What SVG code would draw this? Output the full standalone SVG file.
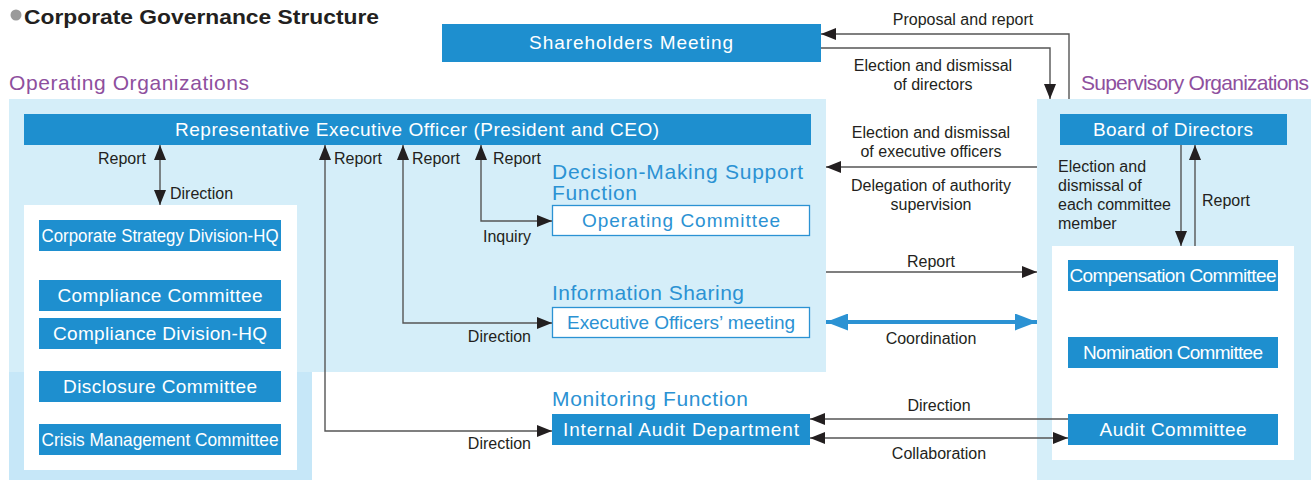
<svg xmlns="http://www.w3.org/2000/svg" width="1311" height="480" viewBox="0 0 1311 480">
<style>
.bg{fill:#d5eef9}
.bg2{fill:#c6e7f8}
.wbox{fill:#ffffff}
.box{fill:#1e8fcf}
.obox{fill:#ffffff;stroke:#2b92d3;stroke-width:1.3}
.bt{font-family:"Liberation Sans",Arial,sans-serif;font-size:19px;fill:#ffffff;text-anchor:middle}
.ot{font-family:"Liberation Sans",Arial,sans-serif;font-size:19px;fill:#2b92d3;text-anchor:middle}
.lb{font-family:"Liberation Sans",Arial,sans-serif;font-size:16px;fill:#231f20}
.mid{text-anchor:middle}
.end{text-anchor:end}
.hd{font-family:"Liberation Sans",Arial,sans-serif;font-size:21px;fill:#2b92d3}
.pu{font-family:"Liberation Sans",Arial,sans-serif;font-size:21px;fill:#8e4f9e}
.ln{fill:none;stroke:#555555;stroke-width:1.4}
.bl{fill:none;stroke:#2b92d3;stroke-width:4}
</style>
<defs>
<marker id="ah" markerUnits="userSpaceOnUse" markerWidth="15" markerHeight="12" refX="15" refY="6" orient="auto-start-reverse" viewBox="0 0 15 12">
<path d="M0,0 L15,6 L0,12 z" fill="#231f20"/>
</marker>
<marker id="bh" markerUnits="userSpaceOnUse" markerWidth="22" markerHeight="17" refX="22" refY="8.5" orient="auto-start-reverse" viewBox="0 0 22 17">
<path d="M0,0 L22,8.5 L0,17 z" fill="#2b92d3"/>
</marker>
</defs>

<g id="title">
<circle cx="16" cy="15" r="5.5" fill="#9a9a9a"/>
<text x="24" y="24" font-family="'Liberation Sans',Arial,sans-serif" font-size="21" font-weight="bold" fill="#231f20" textLength="355" lengthAdjust="spacingAndGlyphs">Corporate Governance Structure</text>
</g>

<g id="operating-area">
<rect class="bg2" x="9" y="360" width="303" height="120"/>
<rect class="bg" x="9" y="99" width="817" height="273"/>
<text class="pu" x="9" y="90" textLength="240">Operating Organizations</text>
<rect class="wbox" x="24" y="205" width="273" height="265"/>
</g>

<g id="supervisory-area">
<rect class="bg" x="1037" y="99" width="274" height="381"/>
<text class="pu" x="1081" y="90" textLength="228">Supervisory Organizations</text>
<rect class="wbox" x="1052" y="246" width="242" height="214"/>
</g>

<g id="shareholders">
<rect class="box" x="442" y="24" width="379" height="38"/>
<text class="bt" x="631" y="49" textLength="204">Shareholders Meeting</text>
</g>

<g id="rep-exec">
<rect class="box" x="24" y="114" width="787" height="31"/>
<text class="bt" x="417" y="136" textLength="484">Representative Executive Officer (President and CEO)</text>
</g>

<g id="corp-strategy">
<rect class="box" x="39" y="220" width="242" height="31"/>
<text class="bt" x="160" y="242" font-size="18" textLength="237" lengthAdjust="spacingAndGlyphs">Corporate Strategy Division-HQ</text>
</g>
<g id="compliance-committee">
<rect class="box" x="39" y="280" width="242" height="31"/>
<text class="bt" x="160" y="302" textLength="205">Compliance Committee</text>
</g>
<g id="compliance-division">
<rect class="box" x="39" y="318" width="242" height="31"/>
<text class="bt" x="160" y="340" textLength="214">Compliance Division-HQ</text>
</g>
<g id="disclosure-committee">
<rect class="box" x="39" y="371" width="242" height="31"/>
<text class="bt" x="160" y="393" textLength="194">Disclosure Committee</text>
</g>
<g id="crisis-committee">
<rect class="box" x="39" y="424" width="242" height="31"/>
<text class="bt" x="160" y="446" font-size="18" textLength="237" lengthAdjust="spacingAndGlyphs">Crisis Management Committee</text>
</g>

<g id="operating-committee">
<text class="hd" x="552" y="179" font-size="20" textLength="251">Decision-Making Support</text>
<text class="hd" x="552" y="200" font-size="20" textLength="85">Function</text>
<rect class="obox" x="552.5" y="205.5" width="257" height="30"/>
<text class="ot" x="681" y="227" textLength="198">Operating Committee</text>
</g>

<g id="exec-officers-meeting">
<text class="hd" x="552" y="300" textLength="192">Information Sharing</text>
<rect class="obox" x="552.5" y="307.5" width="257" height="30"/>
<text class="ot" x="681" y="329" textLength="228">Executive Officers’ meeting</text>
</g>

<g id="internal-audit">
<text class="hd" x="552" y="406" textLength="196">Monitoring Function</text>
<rect class="box" x="552" y="414" width="258" height="31"/>
<text class="bt" x="681" y="436" textLength="236">Internal Audit Department</text>
</g>

<g id="board">
<rect class="box" x="1060" y="114" width="227" height="31"/>
<text class="bt" x="1173" y="136" textLength="160">Board of Directors</text>
</g>
<g id="compensation-committee">
<rect class="box" x="1068" y="260" width="210" height="31"/>
<text class="bt" x="1173" y="282" textLength="207">Compensation Committee</text>
</g>
<g id="nomination-committee">
<rect class="box" x="1068" y="337" width="210" height="31"/>
<text class="bt" x="1173" y="359" textLength="180">Nomination Committee</text>
</g>
<g id="audit-committee">
<rect class="box" x="1068" y="414" width="210" height="31"/>
<text class="bt" x="1173" y="436" textLength="147">Audit Committee</text>
</g>

<g id="connectors">
<path class="ln" d="M160,145 V205" marker-start="url(#ah)" marker-end="url(#ah)"/>
<path class="ln" d="M325,145 V431 H552" marker-start="url(#ah)" marker-end="url(#ah)"/>
<path class="ln" d="M403,145 V323 H552" marker-start="url(#ah)" marker-end="url(#ah)"/>
<path class="ln" d="M481,145 V221 H552" marker-start="url(#ah)" marker-end="url(#ah)"/>
<path class="ln" d="M1069,99 V34 H821" marker-end="url(#ah)"/>
<path class="ln" d="M821,48 H1050 V99" marker-end="url(#ah)"/>
<path class="ln" d="M1037,167 H826" marker-end="url(#ah)"/>
<path class="ln" d="M826,272 H1037" marker-end="url(#ah)"/>
<path class="bl" d="M826,322 H1037" marker-start="url(#bh)" marker-end="url(#bh)"/>
<path class="ln" d="M1068,419 H810" marker-end="url(#ah)"/>
<path class="ln" d="M810,438 H1068" marker-start="url(#ah)" marker-end="url(#ah)"/>
<path class="ln" d="M1181,145 V246" marker-end="url(#ah)"/>
<path class="ln" d="M1195,246 V145" marker-end="url(#ah)"/>

<text class="lb end" x="146" y="164">Report</text>
<text class="lb" x="170" y="199">Direction</text>
<text class="lb" x="334" y="164">Report</text>
<text class="lb" x="412" y="164">Report</text>
<text class="lb" x="493" y="164">Report</text>
<text class="lb end" x="531" y="242">Inquiry</text>
<text class="lb end" x="531" y="342">Direction</text>
<text class="lb end" x="531" y="449">Direction</text>

<text class="lb mid" x="963" y="25">Proposal and report</text>
<text class="lb mid" x="933" y="71">Election and dismissal</text>
<text class="lb mid" x="933" y="90">of directors</text>
<text class="lb mid" x="931" y="138">Election and dismissal</text>
<text class="lb mid" x="931" y="157">of executive officers</text>
<text class="lb mid" x="931" y="191">Delegation of authority</text>
<text class="lb mid" x="931" y="210">supervision</text>
<text class="lb" x="1058" y="172">Election and</text>
<text class="lb" x="1058" y="191">dismissal of</text>
<text class="lb" x="1058" y="210">each committee</text>
<text class="lb" x="1058" y="229">member</text>
<text class="lb" x="1202" y="206">Report</text>
<text class="lb mid" x="931" y="267">Report</text>
<text class="lb mid" x="931" y="344">Coordination</text>
<text class="lb mid" x="939" y="411">Direction</text>
<text class="lb mid" x="939" y="459">Collaboration</text>
</g>
</svg>
